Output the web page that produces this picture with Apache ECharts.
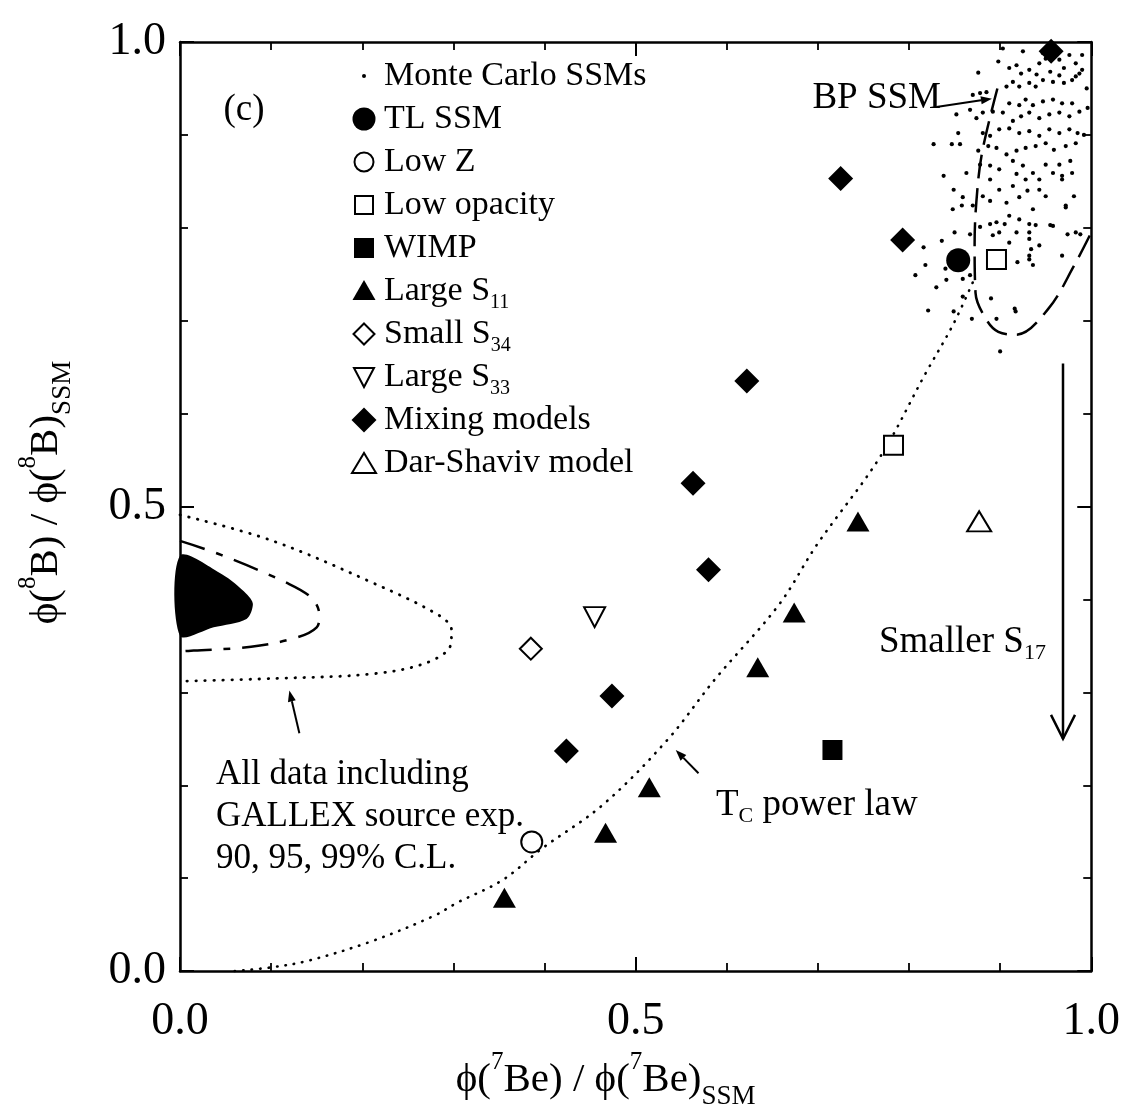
<!DOCTYPE html>
<html>
<head>
<meta charset="utf-8">
<script src="https://cdn.jsdelivr.net/npm/echarts@6/dist/echarts.min.js"></script>
<style>
html,body{margin:0;padding:0;background:#fff;}
#chart{width:1123px;height:1115px;}
</style>
</head>
<body>
<div id="chart"></div>
<script>
// ---------------- data ----------------
const tickValues = [0.0, 0.5, 1.0];
const tickLabels = ['0.0', '0.5', '1.0'];

const tlSSM      = [[0.854, 0.765]];
const lowZ       = [[0.386, 0.139]];
const lowOpacity = [[0.896, 0.766], [0.783, 0.566]];
const wimp       = [[0.716, 0.238]];
const largeS11   = [[0.744, 0.484], [0.674, 0.386], [0.634, 0.327], [0.515, 0.198], [0.467, 0.149], [0.356, 0.079]];
const smallS34   = [[0.385, 0.347]];
const largeS33   = [[0.455, 0.381]];
const mixing     = [[0.956, 0.990], [0.725, 0.853], [0.793, 0.787], [0.622, 0.635], [0.563, 0.525], [0.580, 0.432], [0.474, 0.296], [0.424, 0.237]];
const darShaviv  = [[0.877, 0.484]];

const monteCarlo = [
  [0.876,0.967],[0.898,0.979],[0.910,0.972],[0.918,0.975],[0.923,0.966],[0.932,0.970],[0.943,0.977],[0.950,0.982],
  [0.965,0.981],[0.976,0.986],[0.983,0.977],[0.987,0.966],[0.979,0.959],[0.970,0.956],[0.965,0.964],[0.958,0.957],
  [0.947,0.959],[0.939,0.952],[0.932,0.956],[0.921,0.952],[0.914,0.957],[0.907,0.952],[0.870,0.943],[0.878,0.945],
  [0.885,0.946],[0.910,0.934],[0.921,0.932],[0.928,0.938],[0.936,0.932],[0.947,0.936],[0.958,0.938],[0.968,0.934],
  [0.979,0.934],[0.987,0.925],[0.976,0.920],[0.965,0.924],[0.954,0.922],[0.943,0.918],[0.932,0.924],[0.923,0.920],
  [0.914,0.915],[0.903,0.924],[0.892,0.925],[0.881,0.924],[0.874,0.918],[0.867,0.927],[0.852,0.922],[0.854,0.902],
  [0.847,0.890],[0.856,0.890],[0.881,0.902],[0.889,0.899],[0.899,0.906],[0.910,0.907],[0.921,0.902],[0.932,0.904],
  [0.943,0.899],[0.954,0.906],[0.965,0.902],[0.976,0.906],[0.985,0.902],[0.983,0.891],[0.972,0.888],[0.959,0.884],
  [0.950,0.891],[0.939,0.888],[0.928,0.886],[0.918,0.883],[0.907,0.879],[0.896,0.886],[0.887,0.888],[0.876,0.883],
  [0.827,0.890],[0.838,0.856],[0.863,0.859],[0.878,0.868],[0.889,0.867],[0.899,0.863],[0.914,0.872],[0.925,0.867],
  [0.936,0.859],[0.950,0.868],[0.965,0.868],[0.977,0.872],[0.968,0.856],[0.958,0.859],[0.943,0.852],[0.928,0.852],
  [0.918,0.858],[0.889,0.852],[0.849,0.841],[0.859,0.833],[0.848,0.820],[0.858,0.824],[0.870,0.824],[0.881,0.834],
  [0.889,0.829],[0.899,0.841],[0.907,0.827],[0.914,0.845],[0.921,0.833],[0.930,0.840],[0.936,0.820],[0.943,0.841],
  [0.950,0.834],[0.968,0.852],[0.981,0.834],[0.972,0.822],[0.958,0.802],[0.889,0.804],[0.896,0.806],[0.905,0.804],
  [0.921,0.809],[0.932,0.804],[0.910,0.813],[0.878,0.801],[0.867,0.793],[0.850,0.795],[0.836,0.786],[0.816,0.779],
  [0.892,0.792],[0.899,0.795],[0.918,0.795],[0.932,0.795],[0.910,0.784],[0.932,0.788],[0.943,0.781],[0.934,0.777],
  [0.932,0.770],[0.919,0.763],[0.936,0.760],[0.974,0.793],[0.988,0.793],[0.818,0.760],[0.807,0.749],[0.840,0.756],
  [0.841,0.744],[0.859,0.745],[0.830,0.736],[0.867,0.749],[0.859,0.726],[0.890,0.724],[0.849,0.710],[0.821,0.711],
  [0.869,0.702],[0.896,0.702],[0.916,0.713],[0.968,0.770],[0.983,0.795],[0.972,0.824],[0.955,0.803],[0.932,0.766],
  [0.939,0.803],[0.900,0.667],[0.917,0.710],[0.979,0.859],[0.992,0.900],[0.996,0.929],[0.983,0.963],[0.990,0.986],
  [0.995,0.950],[0.925,0.990],[0.903,0.993],[0.947,0.988],[0.960,0.995],[0.990,0.970],[0.970,0.972],[0.955,0.968],
  [0.940,0.965]
];

const powerLaw = [
  [0.060,0.000],[0.100,0.004],[0.140,0.011],[0.210,0.032],[0.280,0.060],[0.303,0.073],[0.354,0.098],[0.396,0.131],
  [0.464,0.179],[0.535,0.249],[0.587,0.314],[0.657,0.394],[0.699,0.459],[0.768,0.553],[0.818,0.643],[0.849,0.697],
  [0.873,0.748]
];

const cl90 = [[0.000,0.447],[0.046,0.427],[0.073,0.406],[0.080,0.395],[0.073,0.379],[0.037,0.370],[0.000,0.361]];
const cl95 = [[0.000,0.463],[0.045,0.448],[0.119,0.417],[0.145,0.401],[0.153,0.383],[0.150,0.370],[0.128,0.359],[0.078,0.349],[0.015,0.345],[0.000,0.344]];
const cl99 = [[0.000,0.491],[0.099,0.464],[0.209,0.419],[0.284,0.383],[0.298,0.367],[0.297,0.351],[0.271,0.332],[0.212,0.320],[0.104,0.315],[0.000,0.312]];
const rightContour = [[0.897,0.950],[0.880,0.880],[0.874,0.829],[0.872,0.783],[0.873,0.730],[0.885,0.701],[0.898,0.688],[0.918,0.685],[0.953,0.713],[0.981,0.759],[1.000,0.795]];

// arrows: [x1, y1, x2, y2] in data units (tail -> head)
const pointerArrows = [
  [0.830, 0.930, 0.891, 0.939],   // BP SSM
  [0.569, 0.213, 0.544, 0.238],   // Tc power law
  [0.131, 0.256, 0.120, 0.302]    // All data ...
];
const s17Arrow = [[0.969, 0.654, 0.969, 0.250]];

// ---------------- styling ----------------
const SERIF = "'Liberation Serif','DejaVu Serif','Times New Roman',serif";
const BLACK = '#000';
const HOLLOW = {color: '#fff', borderColor: BLACK, borderWidth: 2, opacity: 1};
const FILLED = {color: BLACK, opacity: 1};

const titleRich = {
  t:   {fontSize: 41, fontFamily: SERIF, color: BLACK, lineHeight: 60},
  sup: {fontSize: 25, fontFamily: SERIF, color: BLACK, lineHeight: 44, verticalAlign: 'top'},
  sub: {fontSize: 27, fontFamily: SERIF, color: BLACK, lineHeight: 5, verticalAlign: 'bottom'}
};
const legRich = {
  n: {fontSize: 34, fontFamily: SERIF, color: BLACK, lineHeight: 43},
  s: {fontSize: 20, fontFamily: SERIF, color: BLACK, lineHeight: 8, verticalAlign: 'bottom'}
};
const annRich = {
  n: {fontSize: 37, fontFamily: SERIF, color: BLACK, lineHeight: 44},
  s: {fontSize: 22, fontFamily: SERIF, color: BLACK, lineHeight: 6, verticalAlign: 'bottom'}
};

function axisCommon(showLabel) {
  return {
    type: 'value', min: 0, max: 1, interval: 0.5,
    axisLine: {show: true, onZero: false, lineStyle: {color: BLACK, width: 2.5}},
    axisTick: {show: true, inside: true, length: 14, lineStyle: {color: BLACK, width: 2}},
    minorTick: {show: true, splitNumber: 5, length: 8, lineStyle: {color: BLACK, width: 1.8}},
    splitLine: {show: false}, minorSplitLine: {show: false},
    axisLabel: {
      show: showLabel, fontSize: 46, fontFamily: SERIF, color: BLACK,
      formatter: v => { const i = tickValues.findIndex(t => Math.abs(t - v) < 1e-9); return i >= 0 ? tickLabels[i] : ''; }
    }
  };
}

// legend (drawn as graphic elements)
const legendEntries = [
  {label: '{n|Monte Carlo SSMs}', mark: 'dot'},
  {label: '{n|TL SSM}',           mark: 'circleF'},
  {label: '{n|Low Z}',            mark: 'circleO'},
  {label: '{n|Low opacity}',      mark: 'rectO'},
  {label: '{n|WIMP}',             mark: 'rectF'},
  {label: '{n|Large S}{s|11}',    mark: 'triF'},
  {label: '{n|Small S}{s|34}',    mark: 'diaO'},
  {label: '{n|Large S}{s|33}',    mark: 'invTriO'},
  {label: '{n|Mixing models}',    mark: 'diaF'},
  {label: '{n|Dar-Shaviv model}', mark: 'triO'}
];
function legendMark(kind, x, y) {
  const o = {fill: '#fff', stroke: BLACK, lineWidth: 2};
  const f = {fill: BLACK};
  switch (kind) {
    case 'dot':     return {type: 'circle', x, y, shape: {cx: 0, cy: 0, r: 2}, style: f};
    case 'circleF': return {type: 'circle', x, y, shape: {cx: 0, cy: 0, r: 11.5}, style: f};
    case 'circleO': return {type: 'circle', x, y, shape: {cx: 0, cy: 0, r: 9.5}, style: o};
    case 'rectO':   return {type: 'rect', x, y, shape: {x: -9, y: -9, width: 18, height: 18}, style: o};
    case 'rectF':   return {type: 'rect', x, y, shape: {x: -10, y: -10, width: 20, height: 20}, style: f};
    case 'triF':    return {type: 'polygon', x, y, shape: {points: [[-11.5, 9], [11.5, 9], [0, -11]]}, style: f};
    case 'diaO':    return {type: 'polygon', x, y, shape: {points: [[0, -10.5], [10.5, 0], [0, 10.5], [-10.5, 0]]}, style: o};
    case 'invTriO': return {type: 'polygon', x, y, shape: {points: [[-10, -9], [10, -9], [0, 10]]}, style: o};
    case 'diaF':    return {type: 'polygon', x, y, shape: {points: [[0, -12.5], [12.5, 0], [0, 12.5], [-12.5, 0]]}, style: f};
    case 'triO':    return {type: 'polygon', x, y, shape: {points: [[-12, 10], [12, 10], [0, -10]]}, style: o};
  }
}
const graphics = [];
legendEntries.forEach((e, i) => {
  const y = 76 + 43 * i;
  graphics.push(legendMark(e.mark, 364, y));
  graphics.push({type: 'text', x: 384, y: y, style: {text: e.label, rich: legRich, align: 'left', verticalAlign: 'middle', fill: BLACK}});
});
graphics.push({type: 'text', x: 244, y: 110, style: {text: '(c)', font: '37px ' + SERIF, fill: BLACK, align: 'center', verticalAlign: 'middle'}});
graphics.push({type: 'text', x: 941, y: 98, style: {text: 'BP SSM', font: '37px ' + SERIF, fill: BLACK, align: 'right', verticalAlign: 'middle'}});
graphics.push({type: 'text', x: 879, y: 642, style: {text: '{n|Smaller S}{s|17}', rich: annRich, fill: BLACK, align: 'left', verticalAlign: 'middle'}});
graphics.push({type: 'text', x: 716, y: 805, style: {text: '{n|T}{s|C}{n| power law}', rich: annRich, fill: BLACK, align: 'left', verticalAlign: 'middle'}});
graphics.push({type: 'text', x: 216, y: 754, style: {text: 'All data including\nGALLEX source exp.\n90, 95, 99% C.L.', font: '35px ' + SERIF, lineHeight: 42, fill: BLACK, align: 'left', verticalAlign: 'top'}});

function lineSeries(data, lineStyle) {
  return {type: 'line', data, xAxisIndex: 0, yAxisIndex: 0, smooth: 0.35, symbol: 'none', silent: true,
          lineStyle: Object.assign({color: BLACK, opacity: 1}, lineStyle), z: 2};
}
function scatterSeries(name, data, symbol, size, itemStyle) {
  return {type: 'scatter', name, data, symbol, symbolSize: size, itemStyle, z: 5, silent: true};
}

const option = {
  backgroundColor: '#fff',
  animation: false,
  grid: {left: 180, top: 42, width: 918, height: 935},
  xAxis: [
    Object.assign(axisCommon(true), {
      position: 'bottom',
      axisLabel: Object.assign(axisCommon(true).axisLabel, {margin: 28}),
      name: '{t|ϕ(}{sup|7}{t|Be) / ϕ(}{sup|7}{t|Be)}{sub|SSM}',
      nameLocation: 'middle', nameGap: 63,
      nameTextStyle: {rich: titleRich, padding: [0, 60, 0, 0]}
    }),
    Object.assign(axisCommon(false), {position: 'top'})
  ],
  yAxis: [
    Object.assign(axisCommon(true), {
      position: 'left',
      axisLabel: Object.assign(axisCommon(true).axisLabel, {margin: 14}),
      name: '{t|ϕ(}{sup|8}{t|B) / ϕ(}{sup|8}{t|B)}{sub|SSM}',
      nameLocation: 'middle', nameGap: 104, nameRotate: 90,
      nameTextStyle: {rich: titleRich, padding: [0, 0, 0, 28]}
    }),
    Object.assign(axisCommon(false), {position: 'right'})
  ],
  graphic: graphics,
  series: [
    {
      type: 'custom', name: '90% C.L.', data: cl90, silent: true, z: 2,
      encode: {x: 0, y: 1},
      renderItem: (params, api) => {
        if (params.dataIndex !== 0) return null;
        const pts = cl90.map(p => api.coord(p));
        return {type: 'polygon', shape: {points: pts, smooth: 0.3}, style: {fill: BLACK}};
      }
    },
    lineSeries(cl95, {width: 2.5, type: [26, 12, 7, 12]}),
    lineSeries(cl99, {width: 2.8, type: [0.5, 8.5], cap: 'round'}),
    lineSeries(powerLaw, {width: 2.6, type: [0.5, 8], cap: 'round'}),
    lineSeries(rightContour, {width: 2.5, type: [24, 10]}),
    scatterSeries('Monte Carlo SSMs', monteCarlo, 'circle', 4.2, FILLED),
    scatterSeries('TL SSM', tlSSM, 'circle', 24, FILLED),
    scatterSeries('Low Z', lowZ, 'circle', 21, HOLLOW),
    scatterSeries('Low opacity', lowOpacity, 'rect', 19, HOLLOW),
    scatterSeries('WIMP', wimp, 'rect', 20, FILLED),
    scatterSeries('Large S11', largeS11, 'triangle', [23, 20], FILLED),
    scatterSeries('Small S34', smallS34, 'diamond', [22, 22], HOLLOW),
    scatterSeries('Large S33', largeS33, 'path://M0,0L20,0L10,19Z', [21, 20], HOLLOW),
    scatterSeries('Mixing models', mixing, 'diamond', [25, 25], FILLED),
    scatterSeries('Dar-Shaviv model', darShaviv, 'triangle', [24, 20], HOLLOW),
    {
      type: 'custom', name: 'pointers', data: pointerArrows, silent: true, z: 6,
      encode: {x: [0, 2], y: [1, 3]},
      renderItem: (params, api) => {
        const p1 = api.coord([api.value(0), api.value(1)]);
        const p2 = api.coord([api.value(2), api.value(3)]);
        const dx = p2[0] - p1[0], dy = p2[1] - p1[1], L = Math.hypot(dx, dy);
        const ux = dx / L, uy = dy / L, hl = 11, hw = 4;
        const bx = p2[0] - ux * hl, by = p2[1] - uy * hl;
        return {type: 'group', children: [
          {type: 'line', shape: {x1: p1[0], y1: p1[1], x2: bx, y2: by}, style: {stroke: BLACK, lineWidth: 2}},
          {type: 'polygon', shape: {points: [p2, [bx - uy * hw, by + ux * hw], [bx + uy * hw, by - ux * hw]]}, style: {fill: BLACK}}
        ]};
      }
    },
    {
      type: 'custom', name: 'Smaller S17', data: s17Arrow, silent: true, z: 6,
      encode: {x: [0, 2], y: [1, 3]},
      renderItem: (params, api) => {
        const p1 = api.coord([api.value(0), api.value(1)]);
        const p2 = api.coord([api.value(2), api.value(3)]);
        const dx = p2[0] - p1[0], dy = p2[1] - p1[1], L = Math.hypot(dx, dy);
        const ux = dx / L, uy = dy / L, hl = 24, hw = 12;
        const bx = p2[0] - ux * hl, by = p2[1] - uy * hl;
        return {type: 'group', children: [
          {type: 'line', shape: {x1: p1[0], y1: p1[1], x2: p2[0], y2: p2[1]}, style: {stroke: BLACK, lineWidth: 2.5}},
          {type: 'polyline', shape: {points: [[bx - uy * hw, by + ux * hw], p2, [bx + uy * hw, by - ux * hw]]}, style: {stroke: BLACK, lineWidth: 2.5, fill: null}}
        ]};
      }
    }
  ]
};

const chart = echarts.init(document.getElementById('chart'), null, {renderer: 'canvas'});
chart.setOption(option);
</script>
</body>
</html>
